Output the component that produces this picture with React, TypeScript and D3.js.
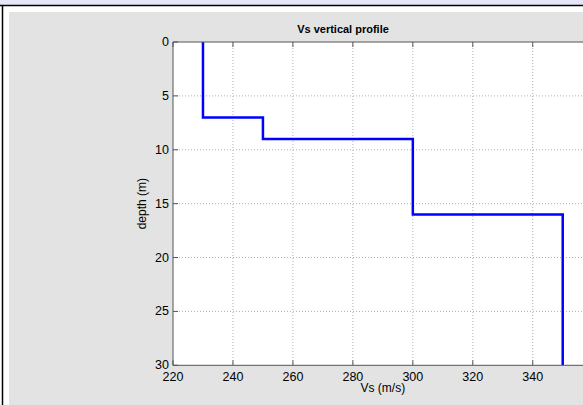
import React from "react";
import * as d3 from "d3";

// Vs step profile: each layer's velocity (m/s) and its depth range (m)
const layerVs = [230, 250, 300, 350];
const layerTop = [0, 7, 9, 16];
const layerBottom = [7, 9, 16, 30];

const xTicks = [220, 240, 260, 280, 300, 320, 340, 360];
const xTickLabels = ["220", "240", "260", "280", "300", "320", "340", ""];
const yTicks = [0, 5, 10, 15, 20, 25, 30];

const W = 583;
const H = 405;

export default function App() {
  const left = 173;
  const right = 592.7;
  const top = 42;
  const bottom = 365.3;

  const x = d3.scaleLinear().domain([220, 360]).range([left, right]);
  const y = d3.scaleLinear().domain([0, 30]).range([top, bottom]);

  // Build the staircase: vertical runs at each layer's Vs, horizontal jumps between
  const pts: [number, number][] = [];
  layerVs.forEach((v, i) => {
    pts.push([v, layerTop[i]]);
    pts.push([v, layerBottom[i]]);
  });
  const line = d3
    .line<[number, number]>()
    .x((d) => x(d[0]))
    .y((d) => y(d[1]));

  const font = "'Liberation Sans', Arial, Helvetica, sans-serif";

  return (
    <svg
      width={W}
      height={H}
      style={{ position: "absolute", left: 0, top: 0, display: "block" }}
      fontFamily={font}
    >
      <rect x={0} y={0} width={W} height={H} fill="#ffffff" />
      {/* window chrome */}
      <rect x={0} y={0} width={W} height={5} fill="#e6e6fa" />
      <line x1={0} x2={W} y1={5.5} y2={5.5} stroke="#000" strokeWidth={1.5} />
      <line x1={2.5} x2={2.5} y1={5} y2={H} stroke="#000" strokeWidth={1.5} />
      {/* figure background */}
      <rect x={9} y={12} width={W - 9} height={H - 12} fill="#e3e3e3" />
      {/* axes area */}
      <rect x={left} y={top} width={right - left} height={bottom - top} fill="#ffffff" />
      <defs>
        <clipPath id="plotClip">
          <rect x={left} y={top} width={right - left} height={bottom - top} />
        </clipPath>
      </defs>
      {/* grid */}
      <g stroke="#b0b0b0" strokeWidth={1} strokeDasharray="1,2">
        {xTicks.slice(1, -1).map((t) => (
          <line key={"gx" + t} x1={x(t)} x2={x(t)} y1={top} y2={bottom} />
        ))}
        {yTicks.slice(1, -1).map((t) => (
          <line key={"gy" + t} x1={left} x2={right} y1={y(t)} y2={y(t)} />
        ))}
      </g>
      {/* profile */}
      <path
        d={line(pts) || ""}
        fill="none"
        stroke="#0000ff"
        strokeWidth={2.5}
        clipPath="url(#plotClip)"
      />
      {/* axes box */}
      <g stroke="#555555" strokeWidth={1}>
        <line x1={left} x2={right} y1={top} y2={top} />
        <line x1={left} x2={right} y1={bottom} y2={bottom} />
        <line x1={left} x2={left} y1={top} y2={bottom} />
        <line x1={right} x2={right} y1={top} y2={bottom} />
        {xTicks.map((t) => (
          <g key={"tx" + t}>
            <line x1={x(t)} x2={x(t)} y1={bottom} y2={bottom - 5} />
            <line x1={x(t)} x2={x(t)} y1={top} y2={top + 5} />
          </g>
        ))}
        {yTicks.map((t) => (
          <g key={"ty" + t}>
            <line x1={left} x2={left + 5} y1={y(t)} y2={y(t)} />
            <line x1={right} x2={right - 5} y1={y(t)} y2={y(t)} />
          </g>
        ))}
      </g>
      {/* tick labels */}
      <g fontSize={12.5} fill="#000">
        {xTicks.map((t, i) => (
          <text key={"lx" + t} x={x(t)} y={bottom + 15.5} textAnchor="middle">
            {xTickLabels[i]}
          </text>
        ))}
        {yTicks.map((t) => (
          <text key={"ly" + t} x={left - 4} y={y(t) + 4} textAnchor="end">
            {t}
          </text>
        ))}
      </g>
      {/* labels */}
      <text x={343} y={33} textAnchor="middle" fontSize={11} fontWeight="bold" fill="#000">
        Vs vertical profile
      </text>
      <text x={(left + right) / 2} y={392} textAnchor="middle" fontSize={12} fill="#000">
        Vs (m/s)
      </text>
      <text
        transform={`translate(146,${(top + bottom) / 2}) rotate(-90)`}
        textAnchor="middle"
        fontSize={12}
        fill="#000"
      >
        depth (m)
      </text>
    </svg>
  );
}
